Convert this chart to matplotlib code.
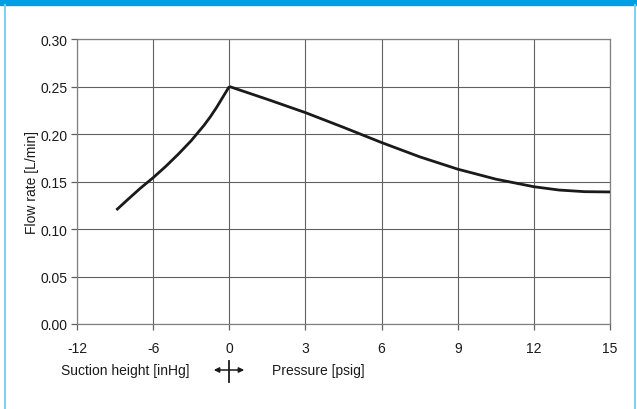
import numpy as np
import matplotlib
matplotlib.use("Agg")
import matplotlib.pyplot as plt
from matplotlib.patches import Rectangle, FancyArrowPatch
from matplotlib.lines import Line2D

plt.rcParams['font.family'] = ['Liberation Sans', 'DejaVu Sans']

# x-axis is split: suction height (inHg) on the left, pressure (psig) on the right
tick_vals = [-12, -6, 0, 3, 6, 9, 12, 15]
tick_labels = ["-12", "-6", "0", "3", "6", "9", "12", "15"]

# suction side (inHg)
suction_inhg = [-8.9, -8.0, -7.0, -6.0, -5.0, -4.0, -3.0, -2.0, -1.5, -1.0, -0.5, 0.0]
suction_flow = [0.120, 0.131, 0.143, 0.154, 0.166, 0.179, 0.193, 0.209, 0.218, 0.228, 0.239, 0.250]

# pressure side (psig)
pressure_psig = [0.0, 1.5, 3.0, 4.5, 6.0, 7.5, 9.0, 10.5, 12.0, 13.0, 14.0, 15.0]
pressure_flow = [0.250, 0.2365, 0.2225, 0.207, 0.191, 0.176, 0.163, 0.1525, 0.1445, 0.141, 0.1393, 0.139]

y_ticks = [0.00, 0.05, 0.10, 0.15, 0.20, 0.25, 0.30]

W, H = 637, 410
fig = plt.figure(figsize=(W / 100, H / 100), dpi=100, facecolor="white")

# frame decoration: blue band on top, light blue side borders
fig.patches.append(Rectangle((0, 1 - 6 / H), 1, 6 / H, transform=fig.transFigure,
                             color="#009FE3", zorder=0))
for xb in (4.5, 634.5):
    fig.lines.append(Line2D([xb / W, xb / W], [0, 1 - 6 / H], transform=fig.transFigure,
                            color="#7FCFF0", lw=1.4))

ax = fig.add_axes([77 / W, 1 - 325 / H, (610 - 77) / W, (325 - 40) / H])

pos = np.arange(len(tick_vals))
fwd = lambda x: np.interp(x, tick_vals, pos)
inv = lambda p: np.interp(p, pos, tick_vals)
ax.set_xscale("function", functions=(fwd, inv))

ax.plot(suction_inhg, suction_flow, color="#1a1a1a", lw=2.0, solid_capstyle="butt",
        solid_joinstyle="round", zorder=3)
ax.plot(pressure_psig, pressure_flow, color="#1a1a1a", lw=2.0, solid_capstyle="butt",
        solid_joinstyle="round", zorder=3)

ax.set_xlim(-12, 15)
ax.set_ylim(0, 0.30)
ax.set_xticks(tick_vals)
ax.set_xticklabels(tick_labels)
ax.set_yticks(y_ticks)
ax.set_yticklabels([f"{v:.2f}" for v in y_ticks])
ax.minorticks_off()
ax.grid(True, color="#606060", lw=0.8)
ax.set_axisbelow(True)
for s in ax.spines.values():
    s.set_color("#808080")
    s.set_linewidth(0.9)
ax.tick_params(axis="both", direction="out", length=4, width=0.9, color="#606060",
               labelsize=10, labelcolor="#1a1a1a")
ax.tick_params(axis="x", pad=8)
ax.tick_params(axis="y", pad=3)
ax.set_ylabel("Flow rate [L/min]", fontsize=10, color="#1a1a1a")
ax.yaxis.set_label_coords(-38 / (610 - 77), 0.5)

# axis captions below with the cross symbol
fig.text(125 / W, 1 - 371 / H, "Suction height [inHg]", ha="center", va="center",
         fontsize=10, color="#1a1a1a")
fig.text(272 / W, 1 - 371 / H, "Pressure [psig]", ha="left", va="center",
         fontsize=10, color="#1a1a1a")
fig.patches.append(FancyArrowPatch(
    (211 / W, 1 - 371 / H), (247 / W, 1 - 371 / H), transform=fig.transFigure,
    arrowstyle="<|-|>,head_length=3,head_width=1.5", color="#1a1a1a", lw=1.1))
fig.lines.append(Line2D([229.5 / W, 229.5 / W], [1 - 362 / H, 1 - 383 / H],
                        transform=fig.transFigure, color="#1a1a1a", lw=1.3))

fig.savefig("out.png", dpi=100, facecolor="white")
